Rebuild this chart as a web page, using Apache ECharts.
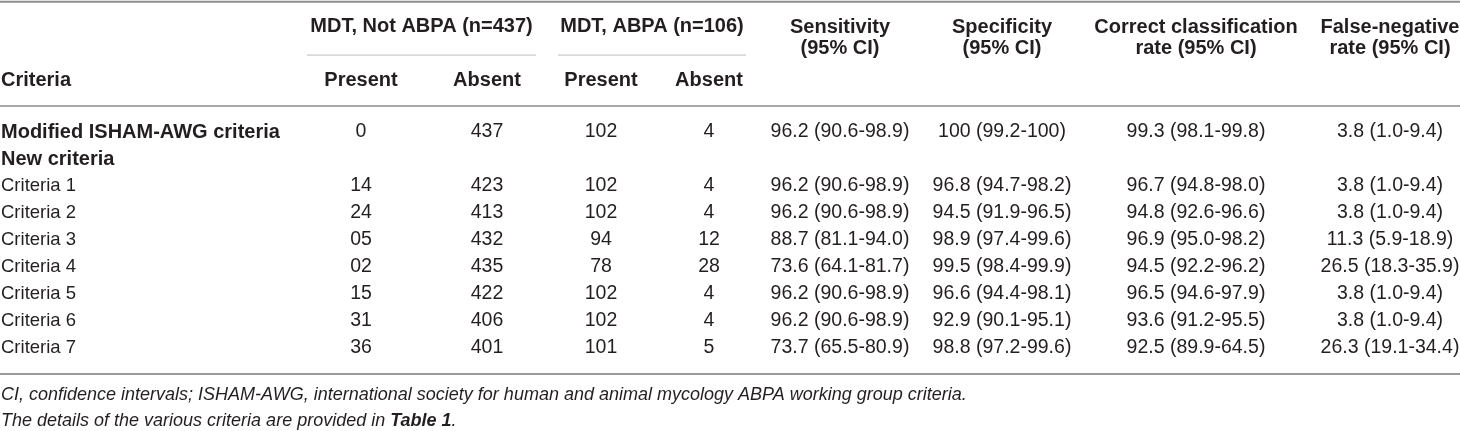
<!DOCTYPE html>
<html>
<head>
<meta charset="utf-8">
<script src="https://cdn.jsdelivr.net/npm/echarts@6/dist/echarts.min.js"></script>
<style>
html,body{margin:0;padding:0;background:#fff;}
#chart{width:1460px;height:431px;}
</style>
</head>
<body>
<div id="chart"></div>
<script>
// ---------- DATA ----------
const rowLabels = ['Modified ISHAM-AWG criteria', 'New criteria', 'Criteria 1', 'Criteria 2', 'Criteria 3', 'Criteria 4', 'Criteria 5', 'Criteria 6', 'Criteria 7'];
const notAbpaPresent = ['0', null, '14', '24', '05', '02', '15', '31', '36'];
const notAbpaAbsent  = ['437', null, '423', '413', '432', '435', '422', '406', '401'];
const abpaPresent    = ['102', null, '102', '102', '94', '78', '102', '102', '101'];
const abpaAbsent     = ['4', null, '4', '4', '12', '28', '4', '4', '5'];
const sensitivity = ['96.2 (90.6-98.9)', null, '96.2 (90.6-98.9)', '96.2 (90.6-98.9)', '88.7 (81.1-94.0)', '73.6 (64.1-81.7)', '96.2 (90.6-98.9)', '96.2 (90.6-98.9)', '73.7 (65.5-80.9)'];
const specificity = ['100 (99.2-100)', null, '96.8 (94.7-98.2)', '94.5 (91.9-96.5)', '98.9 (97.4-99.6)', '99.5 (98.4-99.9)', '96.6 (94.4-98.1)', '92.9 (90.1-95.1)', '98.8 (97.2-99.6)'];
const correctRate = ['99.3 (98.1-99.8)', null, '96.7 (94.8-98.0)', '94.8 (92.6-96.6)', '96.9 (95.0-98.2)', '94.5 (92.2-96.2)', '96.5 (94.6-97.9)', '93.6 (91.2-95.5)', '92.5 (89.9-64.5)'];
const falseNegRate = ['3.8 (1.0-9.4)', null, '3.8 (1.0-9.4)', '3.8 (1.0-9.4)', '11.3 (5.9-18.9)', '26.5 (18.3-35.9)', '3.8 (1.0-9.4)', '3.8 (1.0-9.4)', '26.3 (19.1-34.4)'];

const firstHeader = 'Criteria';
const groupHeaders = ['MDT, Not ABPA (n=437)', 'MDT, ABPA (n=106)'];
const subHeaders = ['Present', 'Absent', 'Present', 'Absent'];
const metricHeaders = ['Sensitivity\n(95% CI)', 'Specificity\n(95% CI)', 'Correct classification\nrate (95% CI)', 'False-negative\nrate (95% CI)'];
const footnote1 = 'CI, confidence intervals; ISHAM-AWG, international society for human and animal mycology ABPA working group criteria.';
const footnote2 = ['The details of the various criteria are provided in ', 'Table 1', '.'];

// ---------- LAYOUT (kept apart from data) ----------
const FONT = '"Liberation Sans", Arial, Helvetica, sans-serif';
const TXT = '#231f20';
const colX = [1, 361, 487, 601, 709, 840, 1002, 1196, 1390];   // label left edge, then column centres
const groupSpan = [[307, 536], [558, 746]];
const boldRow = [true, true, false, false, false, false, false, false, false];
// y axis is in "row units": data row i sits at y = i
const Y = {
  topRule: -4.82, groupHdr: -3.89, metricHdr: -3.5, groupRule: -2.85,
  subHdr: -1.89, hdrRule: -0.96, bottomRule: 8.96, foot1: 9.74, foot2: 10.70
};

// ---------- build cells ----------
const cells = [];
function addText(x, y, text, opt) { cells.push(Object.assign({ value: [x, y], text: text }, opt)); }

addText(colX[0], Y.subHdr, firstHeader, { align: 'left', bold: true });
groupHeaders.forEach((t, k) => addText((groupSpan[k][0] + groupSpan[k][1]) / 2, Y.groupHdr, t, { bold: true }));
subHeaders.forEach((t, k) => addText(colX[1 + k], Y.subHdr, t, { bold: true }));
metricHeaders.forEach((t, k) => addText(colX[5 + k], Y.metricHdr, t, { bold: true, lh: 21 }));

const cols = [notAbpaPresent, notAbpaAbsent, abpaPresent, abpaAbsent, sensitivity, specificity, correctRate, falseNegRate];
rowLabels.forEach((lab, i) => {
  addText(colX[0], i, lab, { align: 'left', bold: boldRow[i], size: boldRow[i] ? 20 : 18.5 });
  cols.forEach((arr, c) => { if (arr[i] != null) addText(colX[c + 1], i, arr[i], { size: 19.5 }); });
});
addText(colX[0], Y.foot1, footnote1, { align: 'left', italic: true, size: 18 });
addText(colX[0], Y.foot2, footnote2, { align: 'left', rich: true, size: 18 });

const rules = [
  { value: [0, Y.topRule], x2: 1460, w: 2, c: '#8e8e8e' },
  { value: [groupSpan[0][0], Y.groupRule], x2: groupSpan[0][1], w: 1, c: '#bcbcbc' },
  { value: [groupSpan[1][0], Y.groupRule], x2: groupSpan[1][1], w: 1, c: '#bcbcbc' },
  { value: [0, Y.hdrRule], x2: 1460, w: 2, c: '#a8a8a8' },
  { value: [0, Y.bottomRule], x2: 1460, w: 2, c: '#9a9a9a' }
];

const chart = echarts.init(document.getElementById('chart'), null, { renderer: 'canvas' });
chart.setOption({
  animation: false,
  backgroundColor: '#ffffff',
  grid: { left: 0, right: 0, top: 0, bottom: 0 },
  xAxis: { type: 'value', min: 0, max: 1460, show: false },
  yAxis: { type: 'value', min: -4.889, max: 11.074, inverse: true, show: false },
  series: [
    {
      type: 'custom',
      data: rules,
      encode: { x: 0, y: 1 },
      renderItem: function (params, api) {
        const r = rules[params.dataIndex];
        const p1 = api.coord([api.value(0), api.value(1)]);
        const p2 = api.coord([r.x2, api.value(1)]);
        return { type: 'line', shape: { x1: p1[0], y1: p1[1], x2: p2[0], y2: p2[1] },
                 style: { stroke: r.c, lineWidth: r.w } };
      }
    },
    {
      type: 'custom',
      data: cells,
      encode: { x: 0, y: 1 },
      renderItem: function (params, api) {
        const c = cells[params.dataIndex];
        const p = api.coord([api.value(0), api.value(1)]);
        const size = c.size || 20;
        const weight = c.bold ? 'bold' : 'normal';
        const style = {
          x: p[0], y: p[1],
          fill: TXT,
          align: c.align || 'center',
          verticalAlign: 'middle',
          fontFamily: FONT, fontSize: size, fontWeight: weight,
          fontStyle: c.italic ? 'italic' : 'normal'
        };
        if (c.lh) style.lineHeight = c.lh;
        if (c.rich) {
          style.text = '{i|' + c.text[0] + '}{b|' + c.text[1] + '}{i|' + c.text[2] + '}';
          style.rich = {
            i: { fontFamily: FONT, fontSize: size, fontStyle: 'italic', fill: TXT },
            b: { fontFamily: FONT, fontSize: size, fontStyle: 'italic', fontWeight: 'bold', fill: TXT }
          };
        } else {
          style.text = c.text;
        }
        return { type: 'text', style: style };
      }
    }
  ]
});
</script>
</body>
</html>
